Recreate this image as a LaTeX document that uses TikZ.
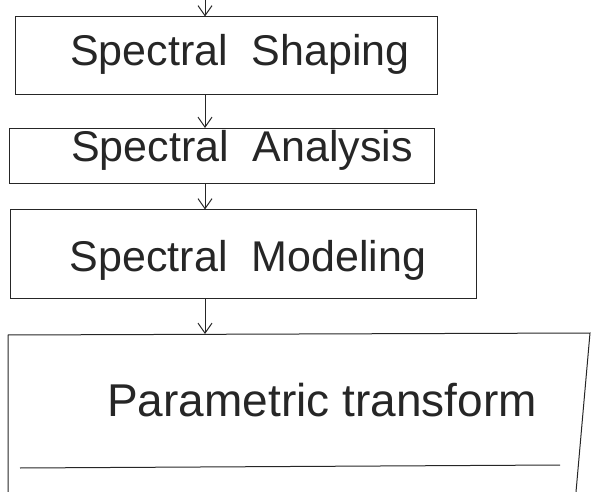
\documentclass[tikz,border=0pt]{standalone}
\usepackage{fontspec}
\setmainfont{Liberation Sans}
\usetikzlibrary{arrows.meta}
\begin{document}
\begin{tikzpicture}[x=1pt,y=-1pt,
  ink/.style={draw=black!85,line width=1pt},
  stepbox/.style={ink,rectangle,inner sep=0pt},
  label/.style={font=\fontsize{43}{43}\selectfont,text=black!85},
  flow/.style={ink,-{Straight Barb[length=10pt,width=14pt]}}]
\useasboundingbox (0,0) rectangle (595,492);
% boxes
\node[stepbox,minimum width=422pt,minimum height=78pt] (b1) at (226,56) {};
\node[stepbox,minimum width=425pt,minimum height=55pt] (b2) at (222,156) {};
\node[stepbox,minimum width=466pt,minimum height=88pt] (b3) at (243,254) {};
\coordinate (b4top) at (205,334);
\draw[ink] (8,492) -- (8,335) -- (590,333) -- (576,492);
\draw[ink] (20,468) -- (560,465);
% labels
\node[label] (t1) at (240,54) {Spectral\ \ Shaping};
\node[label] (t2) at (242,150) {Spectral\ \ Analysis};
\node[label] (t3) at (248,260) {Spectral\ \ Modeling};
\node[label,font=\fontsize{46}{46}\selectfont] (t4) at (322,400) {Parametric transform};
% connectors
\coordinate (in) at (205,0);
\draw[flow] (in) -- (b1.north -| in);
\draw[flow] (b1.south -| in) -- (b2.north -| in);
\draw[flow] (b2.south -| in) -- (b3.north -| in);
\draw[flow] (b3.south -| in) -- (b4top);
\end{tikzpicture}
\end{document}
